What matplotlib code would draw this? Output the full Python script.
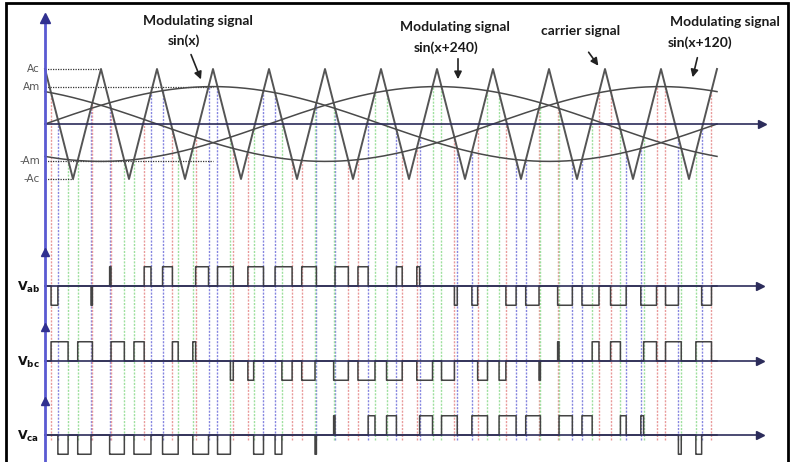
import numpy as np
import matplotlib
matplotlib.use("Agg")
import matplotlib.pyplot as plt
from matplotlib.patches import Rectangle

# carrier: triangle vertices, position in degrees of the fundamental, level in units of Ac
carrier_deg = [0, 15, 30, 45, 60, 75, 90, 105, 120, 135, 150, 165, 180,
               195, 210, 225, 240, 255, 270, 285, 300, 315, 330, 345, 360]
carrier_lvl = [1, -1, 1, -1, 1, -1, 1, -1, 1, -1, 1, -1, 1,
               -1, 1, -1, 1, -1, 1, -1, 1, -1, 1, -1, 1]

# modulating signals (amplitude Am relative to Ac, phase in degrees)
mod_amp = 0.68
mod_names = ["sin(x)", "sin(x+120)", "sin(x+240)"]
mod_phase = [0, 120, 240]
mod_colors = ["#8585e0", "#e99a9a", "#9ee09e"]

row_labels = ["ab", "bc", "ca"]
row_pairs = [(0, 1), (1, 2), (2, 0)]

# pixel -> data helpers (layout only)
PXD = 672 / 360.0
def px2x(px):
    return (px - 45) / PXD
def px2y(py):
    return (124 - py) / 55.0

fig = plt.figure(figsize=(7.9, 4.62), dpi=100)
ax = fig.add_axes([0, 0, 1, 1])
ax.set_xlim(px2x(0), px2x(790))
ax.set_ylim(px2y(462), px2y(0))
ax.axis("off")

x = np.linspace(0, 360, 14401)
car = np.interp(x, carrier_deg, carrier_lvl)
mods = [mod_amp * np.sin(np.radians(x + p)) for p in mod_phase]

# vertical dashed lines at carrier / signal crossings
y_low = px2y(440)
for m, c in zip(mods, mod_colors):
    d = m - car
    idx = np.where(np.diff(np.sign(d)) != 0)[0]
    xi = x[idx] - d[idx] * (x[idx + 1] - x[idx]) / (d[idx + 1] - d[idx])
    yi = np.interp(xi, x, m)
    ax.vlines(xi, y_low, yi, colors=c, linestyles=(0, (1.5, 1)), lw=1.0, zorder=1)

# carrier and modulating curves
ax.plot(carrier_deg, carrier_lvl, color="#555555", lw=1.4, zorder=3)
for m in mods:
    ax.plot(x, m, color="#4a4a4a", lw=1.1, zorder=3)

# reference levels
dot = dict(color="#333333", lw=0.9, ls=(0, (1, 1)), zorder=2)
ax.plot([0, 30], [1, 1], **dot)
ax.plot([0, 15], [-1, -1], **dot)
ax.plot([0, 90], [mod_amp, mod_amp], **dot)
ax.plot([0, 90], [-mod_amp, -mod_amp], **dot)
for lab, lv in [("Ac", 1), ("Am", mod_amp), ("-Am", -mod_amp), ("-Ac", -1)]:
    ax.text(px2x(40), lv, lab, ha="right", va="center", fontsize=7.5,
            color="#555555", family="DejaVu Sans")

# axes
axis_col = "#2c2c5a"
ax.plot([0, px2x(760)], [0, 0], color=axis_col, lw=1.2, zorder=4)
ax.plot(px2x(762), 0, marker=">", color=axis_col, ms=6, zorder=4)
ax.plot([0, 0], [px2y(462), px2y(20)], color="#5a5ad2", lw=2, zorder=5)
ax.plot(0, px2y(18), marker="^", color="#303090", ms=7, zorder=5)

# line-voltage pulse trains
row_y = [px2y(286), px2y(361), px2y(435)]
pulse_h = 0.35
S = [(m > car).astype(float) for m in mods]
for (i, j), y0, lab in zip(row_pairs, row_y, row_labels):
    v = S[i] - S[j]
    ax.plot(x, y0 + pulse_h * v, color="#444444", lw=1.1, drawstyle="steps-post", zorder=3)
    ax.plot([0, px2x(758)], [y0, y0], color=axis_col, lw=1.2, zorder=4)
    ax.plot(px2x(760), y0, marker=">", color=axis_col, ms=6, zorder=4)
    ax.plot(0, y0 + 0.62, marker="^", color="#303090", ms=6, zorder=5)
    ax.text(px2x(17), y0 - 0.03, r"$\mathbf{V}_{\mathbf{%s}}$" % lab, ha="left",
            va="center", fontsize=9, color="#111111")

# annotations
tfont = dict(family="Lato", weight="bold", fontsize=10, color="#1a1a1a")
ax.text(px2x(198), px2y(21), "Modulating signal", ha="center", va="center", **tfont)
ax.text(px2x(184), px2y(41), "sin(x)", ha="center", va="center", **tfont)
ax.text(px2x(455), px2y(27), "Modulating signal", ha="center", va="center", **tfont)
ax.text(px2x(446), px2y(48), "sin(x+240)", ha="center", va="center", **tfont)
ax.text(px2x(581), px2y(31), "carrier signal", ha="center", va="center", **tfont)
ax.text(px2x(725), px2y(22), "Modulating signal", ha="center", va="center", **tfont)
ax.text(px2x(700), px2y(43), "sin(x+120)", ha="center", va="center", **tfont)

arr = dict(arrowstyle="-|>", color="#222222", lw=1.2, mutation_scale=11)
for tail, tip in [((190, 52), (202, 82)), ((458, 56), (458, 82)),
                  ((587, 50), (600, 68)), ((698, 55), (692, 80))]:
    ax.annotate("", xy=(px2x(tip[0]), px2y(tip[1])),
                xytext=(px2x(tail[0]), px2y(tail[1])), arrowprops=arr, zorder=6)

# frame around the picture
fig.add_artist(Rectangle((6 / 790, -0.01), 782 / 790, 1 - 3 / 462 + 0.01,
                         transform=fig.transFigure, fill=False, lw=2, ec="black"))

fig.savefig("out.png", dpi=100)
